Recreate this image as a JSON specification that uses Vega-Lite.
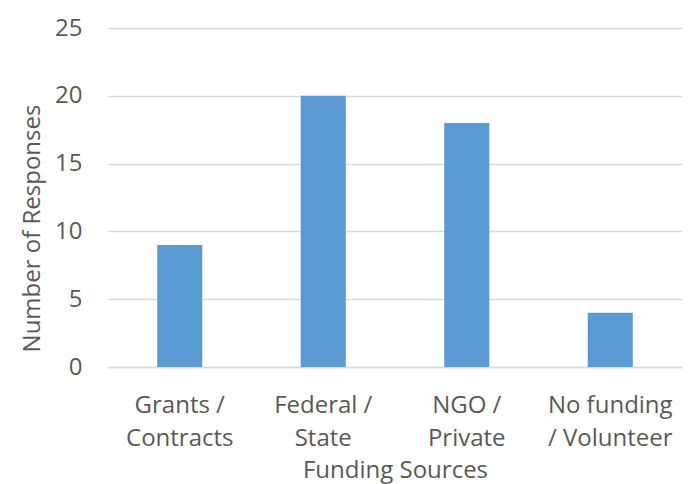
{
  "$schema": "https://vega.github.io/schema/vega-lite/v6.json",
  "autosize": {"type": "none"},
  "width": 574,
  "height": 339,
  "padding": {"left": 108, "top": 28, "right": 9, "bottom": 117},
  "background": "white",
  "config": {
    "view": {"stroke": null},
    "font": "Open Sans",
    "axis": {
      "labelFont": "Open Sans",
      "titleFont": "Open Sans",
      "labelColor": "#595959",
      "titleColor": "#595959",
      "labelFontSize": 24,
      "titleFontSize": 24,
      "titleFontWeight": "normal",
      "gridColor": "#d9d9d9",
      "gridWidth": 1.5,
      "ticks": false
    }
  },
  "data": {
    "values": [
      {"source": "Grants / Contracts", "responses": 9},
      {"source": "Federal / State", "responses": 20},
      {"source": "NGO / Private", "responses": 18},
      {"source": "No funding / Volunteer", "responses": 4}
    ]
  },
  "mark": {"type": "bar", "color": "#5b9bd5"},
  "encoding": {
    "x": {
      "field": "source",
      "type": "nominal",
      "sort": null,
      "scale": {"paddingInner": 0.686, "paddingOuter": 0.343},
      "axis": {
        "title": "Funding Sources",
        "labelAngle": 0,
        "labelPadding": 26,
        "labelLineHeight": 33,
        "labelExpr": "datum.label == 'No funding / Volunteer' ? ['No funding', '/ Volunteer'] : split(replace(datum.label, '/ ', '/|'), '|')",
        "domainColor": "#d9d9d9",
        "domainWidth": 1.5,
        "titlePadding": 8
      }
    },
    "y": {
      "field": "responses",
      "type": "quantitative",
      "scale": {"domain": [0, 25]},
      "axis": {
        "title": "Number of Responses",
        "values": [0, 5, 10, 15, 20, 25],
        "domain": false,
        "labelPadding": 26,
        "titlePadding": 10,
        "titleY": 200
      }
    }
  }
}
